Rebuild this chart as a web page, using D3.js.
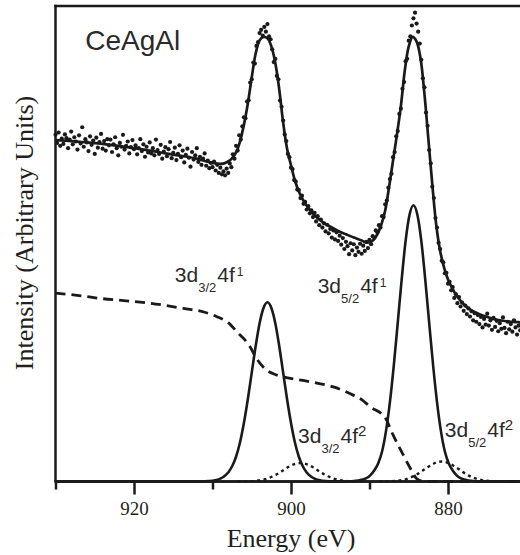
<!DOCTYPE html>
<html><head><meta charset="utf-8">
<script src="https://cdn.jsdelivr.net/npm/d3@7"></script>
<style>
html,body{margin:0;padding:0;background:#fff;}
svg{display:block;}
</style></head><body>
<svg id="chart" width="520" height="555"></svg>
<script>
// Ce 3d core-level spectrum of CeAgAl: measured points, fit envelope,
// Shirley-type background and the four fitted components.

// measured scan: first binding energy and step (eV), one intensity per step
const scanStart = 930, scanStep = 0.2;
const measured = [
  72.9, 71.2, 73.4, 70.6, 72.1, // 930
  71.0, 73.0, 72.2, 70.1, 71.9, // 929
  73.6, 70.9, 72.4, 71.5, 69.8, // 928
  72.8, 71.1, 74.5, 70.4, 72.0, // 927
  71.3, 69.5, 72.6, 70.8, 71.7, // 926
  68.9, 72.3, 70.2, 71.4, 73.1, // 925
  70.0, 71.6, 69.6, 72.0, 70.7, // 924
  71.9, 69.3, 70.9, 72.4, 70.1, // 923
  68.6, 71.2, 70.4, 72.9, 69.8, // 922
  70.6, 71.5, 69.0, 70.3, 71.8, // 921
  69.9, 70.7, 68.8, 70.1, 72.0, // 920
  69.5, 70.9, 68.3, 70.4, 69.2, // 919
  71.3, 69.0, 70.1, 68.6, 71.9, // 918
  69.7, 68.9, 70.8, 67.9, 69.4, // 917
  70.3, 68.4, 69.9, 71.4, 68.0, // 916
  69.1, 70.2, 67.6, 68.9, 70.7, // 915
  68.2, 69.6, 67.1, 68.7, 70.0, // 914
  68.1, 66.2, 69.3, 67.7, 68.6, // 913
  70.1, 67.2, 68.3, 66.6, 67.9, // 912
  69.0, 66.4, 67.5, 65.9, 67.0, // 911
  66.1, 67.3, 65.4, 66.6, 64.9, // 910
  66.0, 64.6, 65.2, 64.4, 65.8, // 909
  64.9, 66.9, 66.1, 68.8, 67.9, // 908
  70.6, 69.6, 72.8, 71.9, 74.7, // 907
  76.6, 76.4, 79.9, 80.2, 83.9, // 906
  84.6, 88.1, 87.9, 91.6, 92.4, // 905
  94.3, 95.0, 93.8, 95.6, 94.6, // 904
  96.2, 93.6, 93.0, 90.9, 88.2, // 903
  88.9, 85.3, 84.6, 80.1, 78.8, // 902
  75.9, 73.0, 71.6, 68.9, 68.2, // 901
  66.0, 65.7, 63.4, 63.1, 61.4, // 900
  61.3, 59.6, 60.1, 58.4, 58.8, // 899
  57.2, 57.9, 56.4, 57.0, 55.6, // 898
  56.5, 54.7, 55.8, 53.9, 55.1, // 897
  53.4, 54.3, 52.6, 54.0, 52.2, // 896
  53.1, 51.3, 52.8, 50.9, 52.4, // 895
  50.6, 51.7, 49.8, 51.2, 48.9, // 894
  50.4, 49.5, 47.8, 50.1, 48.6, // 893
  49.9, 47.6, 49.2, 48.3, 50.0, // 892
  47.9, 49.6, 48.5, 50.4, 49.1, // 891
  50.8, 49.9, 51.6, 51.3, 52.8, // 890
  52.4, 53.9, 53.4, 55.8, 55.6, // 889
  58.3, 59.1, 61.8, 63.6, 64.7, // 888
  68.2, 69.3, 72.6, 73.7, 77.3, // 887
  78.4, 82.6, 84.0, 88.4, 88.9, // 886
  92.7, 93.6, 95.9, 97.4, 98.6, // 885
  96.3, 94.6, 92.1, 88.7, 84.8, // 884
  82.9, 77.6, 74.8, 69.7, 66.9, // 883
  62.0, 59.6, 55.4, 53.4, 50.2, // 882
  48.9, 46.4, 46.1, 43.8, 43.9, // 881
  41.6, 42.0, 40.2, 40.9, 38.6, // 880
  39.4, 37.5, 38.8, 36.8, 37.6, // 879
  35.9, 37.0, 35.2, 36.4, 34.7, // 878
  35.8, 33.9, 35.4, 33.6, 35.0, // 877
  33.1, 34.6, 32.4, 34.2, 33.0, // 876
  35.3, 32.8, 33.9, 31.9, 34.4, // 875
  32.5, 33.8, 31.6, 33.3, 32.1, // 874
  34.5, 32.3, 31.2, 33.6, 32.0, // 873
  33.1, 31.5, 33.9, 32.4, 30.9, // 872
  32.8, 31.8, 33.2, 31.3, 32.6, // 871
  31.7                          // 870
];

// fit envelope [energy, intensity]
const fitCurve = [
  [930,71.8],[928,71.6],[926,71.3],[924,71.0],[922,70.6],[920,70.1],[918,69.6],[916,69.0],
  [914,68.5],[912,67.9],[911,67.4],[910,67.0],[909,66.8],[908.5,66.9],[908,67.3],[907.5,68.0],
  [907,69.2],[906.5,71.5],[906,75.0],[905.5,79.5],[905,85.0],[904.5,90.0],[904,92.8],[903.5,93.5],
  [903,93.2],[902.5,91.5],[902,88.0],[901.5,82.5],[901,75.5],[900.5,70.0],[900,66.5],[899.5,63.3],
  [899,61.0],[898.5,59.3],[898,58.0],[897,56.0],[896,54.6],[895,53.6],[894,52.7],[893,52.0],
  [892,51.3],[891,50.7],[890.5,50.3],[890,50.3],[889.5,50.8],[889,52.0],[888.5,54.0],[888,57.0],
  [887.5,62.0],[887,67.5],[886.5,73.0],[886,79.0],[885.5,86.5],[885,91.5],[884.5,93.5],[884,92.5],
  [883.5,89.0],[883,81.5],[882.5,72.0],[882,62.5],[881.5,54.0],[881,48.5],[880.5,45.0],[880,42.5],
  [879.5,40.8],[879,39.3],[878.5,38.2],[878,37.3],[877,36.0],[876,35.2],[875,34.6],[874,34.1],
  [873,33.8],[872,33.6],[871,33.5],[870,33.4]
];

// Shirley-type background [energy, intensity]
const background = [
  [930,39.6],[927,39.1],[924.3,38.5],[921,38.0],[918,37.5],[913.7,36.4],[911,35.6],[909.5,34.7],
  [908,33.4],[906.9,31.5],[905.2,28.3],[904.4,25.9],[903.1,23.4],[902,22.5],[901,22.0],[899,21.4],
  [896.7,20.7],[894.6,19.9],[892.5,18.5],[891,17.2],[889.9,15.7],[888,13.4],[887,9.8],[885.7,5.6],
  [884.6,2.2],[884,0.6],[883,0],[870,0]
];

// 3d3/2 4f1 component
const comp32f1 = [
  [930,0],[912,0],[911,0.03],[910,0.15],[909.5,0.3],[909,0.6],[908.5,1.1],[908,1.9],[907.5,3.2],
  [907,5.2],[906.5,8.2],[906,12.3],[905.5,17.3],[905,22.9],[904.5,28.5],[904,33.3],[903.5,36.5],
  [903,37.7],[902.5,36.5],[902,33.3],[901.5,28.5],[901,22.9],[900.5,17.3],[900,12.3],[899.5,8.2],
  [899,5.2],[898.5,3.2],[898,1.9],[897.5,1.1],[897,0.6],[896.5,0.3],[896,0.15],[895,0.03],[894,0],[870,0]
];

// 3d5/2 4f1 component
const comp52f1 = [
  [930,0],[893.4,0],[892.4,0.05],[891.4,0.2],[890.9,0.4],[890.4,0.7],[889.9,1.3],[889.4,2.3],
  [888.9,3.8],[888.4,6.3],[887.9,10.6],[887.4,16.7],[886.9,24.5],[886.4,33.4],[885.9,42.5],
  [885.4,50.6],[884.9,56.1],[884.4,58.1],[883.9,56.1],[883.4,50.6],[882.9,42.5],[882.4,33.4],
  [881.9,24.5],[881.4,16.7],[880.9,10.6],[880.4,6.3],[879.9,3.8],[879.4,2.3],[878.9,1.3],
  [878.4,0.7],[877.9,0.4],[877.4,0.2],[876.4,0.05],[875.4,0],[870,0]
];

// 3d3/2 4f2 component
const comp32f2 = [
  [906.8,0],[905.8,0.02],[904.8,0.09],[903.8,0.3],[903.3,0.48],[902.8,0.75],[902.3,1.1],
  [901.8,1.54],[901.3,2.04],[900.8,2.58],[900.3,3.09],[899.8,3.52],[899.3,3.8],[898.8,3.9],
  [898.3,3.8],[897.8,3.52],[897.3,3.09],[896.8,2.58],[896.3,2.04],[895.8,1.54],[895.3,1.1],
  [894.8,0.75],[894.3,0.48],[893.8,0.3],[892.8,0.09],[891.8,0.02],[890.8,0]
];

// 3d5/2 4f2 component
const comp52f2 = [
  [888.8,0],[887.8,0.03],[886.8,0.1],[885.8,0.32],[885.3,0.52],[884.8,0.81],[884.3,1.18],
  [883.8,1.66],[883.3,2.2],[882.8,2.78],[882.3,3.33],[881.8,3.79],[881.3,4.09],[880.8,4.2],
  [880.3,4.09],[879.8,3.79],[879.3,3.33],[878.8,2.78],[878.3,2.2],[877.8,1.66],[877.3,1.18],
  [876.8,0.81],[876.3,0.52],[875.8,0.32],[874.8,0.1],[873.8,0.03],[872.8,0]
];

const majorTicks = [920, 900, 880];
const minorTicks = [930, 910, 890, 870];
const xTitle = "Energy (eV)";
const yTitle = "Intensity (Arbitrary Units)";
const sampleName = "CeAgAl";

// component labels: [main, subscript, main, superscript, energy, intensity]
const componentLabels = [
  ["3d", "3/2", "4f", "1", 914.8, 42.0],
  ["3d", "5/2", "4f", "1", 896.6, 39.6],
  ["3d", "3/2", "4f", "2", 899.1, 8.1],
  ["3d", "5/2", "4f", "2", 880.4, 9.4]
];

// ---------- drawing ----------
const ink = "#1a1a1a";
const svg = d3.select("#chart");
const plotLeft = 55.5, plotTop = 6, plotBottom = 481.5, svgWidth = 520;

const x = d3.scaleLinear().domain([930, 870]).range([plotLeft, plotLeft + 60 * 7.85]);
const y = d3.scaleLinear().domain([0, 100]).range([plotBottom, plotTop]);

const line = d3.line()
  .x(d => x(d[0])).y(d => y(d[1]))
  .curve(d3.curveMonotoneX);

// background (dashed)
svg.append("path").datum(background)
  .attr("d", line).attr("fill", "none").attr("stroke", ink)
  .attr("stroke-width", 2.8).attr("stroke-dasharray", "10,6");

// satellite components (dotted)
[comp32f2, comp52f2].forEach(c => {
  svg.append("path").datum(c)
    .attr("d", line).attr("fill", "none").attr("stroke", ink)
    .attr("stroke-width", 2.4).attr("stroke-dasharray", "3,3.5");
});

// main components (solid)
[comp32f1, comp52f1].forEach(c => {
  svg.append("path").datum(c)
    .attr("d", line).attr("fill", "none").attr("stroke", ink)
    .attr("stroke-width", 2.6);
});

// measured points
const pts = measured.map((v, i) => [scanStart - i * scanStep, v]);
svg.append("g").selectAll("circle").data(pts).join("circle")
  .attr("cx", d => x(d[0])).attr("cy", d => y(d[1]))
  .attr("r", 2.1).attr("fill", ink);

// fit envelope
svg.append("path").datum(fitCurve)
  .attr("d", d3.line().x(d => x(d[0])).y(d => y(d[1])).curve(d3.curveCatmullRom.alpha(0.5)))
  .attr("fill", "none").attr("stroke", ink).attr("stroke-width", 2.7);

// frame: left and top edges
svg.append("line").attr("x1", plotLeft).attr("x2", plotLeft).attr("y1", plotTop - 1.2).attr("y2", plotBottom)
  .attr("stroke", ink).attr("stroke-width", 2.5);
svg.append("line").attr("x1", plotLeft - 1.2).attr("x2", svgWidth).attr("y1", plotTop).attr("y2", plotTop)
  .attr("stroke", ink).attr("stroke-width", 2.5);

// bottom axis
const axMajor = d3.axisBottom(x).tickValues(majorTicks).tickSize(13).tickSizeOuter(0)
  .tickPadding(7).tickFormat(d3.format("d"));
const gx = svg.append("g").attr("transform", `translate(0,${plotBottom})`).call(axMajor);
gx.select(".domain").remove();
gx.selectAll(".tick line").attr("stroke", ink).attr("stroke-width", 2.5);
gx.selectAll(".tick text").attr("fill", "#231f20")
  .style("font-family", "'Liberation Serif','Times New Roman',serif").style("font-size", "19px");

const axMinor = d3.axisBottom(x).tickValues(minorTicks).tickSize(8).tickSizeOuter(0).tickFormat("");
const gm = svg.append("g").attr("transform", `translate(0,${plotBottom})`).call(axMinor);
gm.select(".domain").remove();
gm.selectAll(".tick line").attr("stroke", ink).attr("stroke-width", 2.5);

svg.append("line").attr("x1", plotLeft - 1.2).attr("x2", svgWidth).attr("y1", plotBottom).attr("y2", plotBottom)
  .attr("stroke", ink).attr("stroke-width", 2.5);

// axis titles
svg.append("text").attr("x", 291).attr("y", 547).attr("text-anchor", "middle")
  .attr("fill", "#231f20")
  .style("font-family", "'Liberation Serif','Times New Roman',serif").style("font-size", "26px")
  .text(xTitle);
svg.append("text").attr("transform", "translate(33,233) rotate(-90)").attr("text-anchor", "middle")
  .attr("fill", "#231f20")
  .style("font-family", "'Liberation Serif','Times New Roman',serif").style("font-size", "26px")
  .text(yTitle);

// sample name
svg.append("text").attr("x", x(926.2)).attr("y", y(90.75))
  .attr("fill", "#2a2a2a")
  .style("font-family", "'Liberation Sans',Arial,sans-serif").style("font-size", "28px")
  .text(sampleName);

// component labels
componentLabels.forEach(([a, sub, b, sup, e, v]) => {
  const t = svg.append("text").attr("x", x(e)).attr("y", y(v))
    .attr("fill", "#2a2a2a")
    .style("font-family", "'Liberation Sans',Arial,sans-serif").style("font-size", "21px");
  t.append("tspan").text(a);
  t.append("tspan").attr("dy", 10).style("font-size", "13px").text(sub);
  t.append("tspan").attr("dy", -10).attr("dx", 1).text(b);
  t.append("tspan").attr("dy", sup === "1" ? -6 : -7).attr("dx", sup === "1" ? 2 : 0)
    .style("font-size", sup === "1" ? "12px" : "15px").text(sup);
});
</script>
</body></html>
